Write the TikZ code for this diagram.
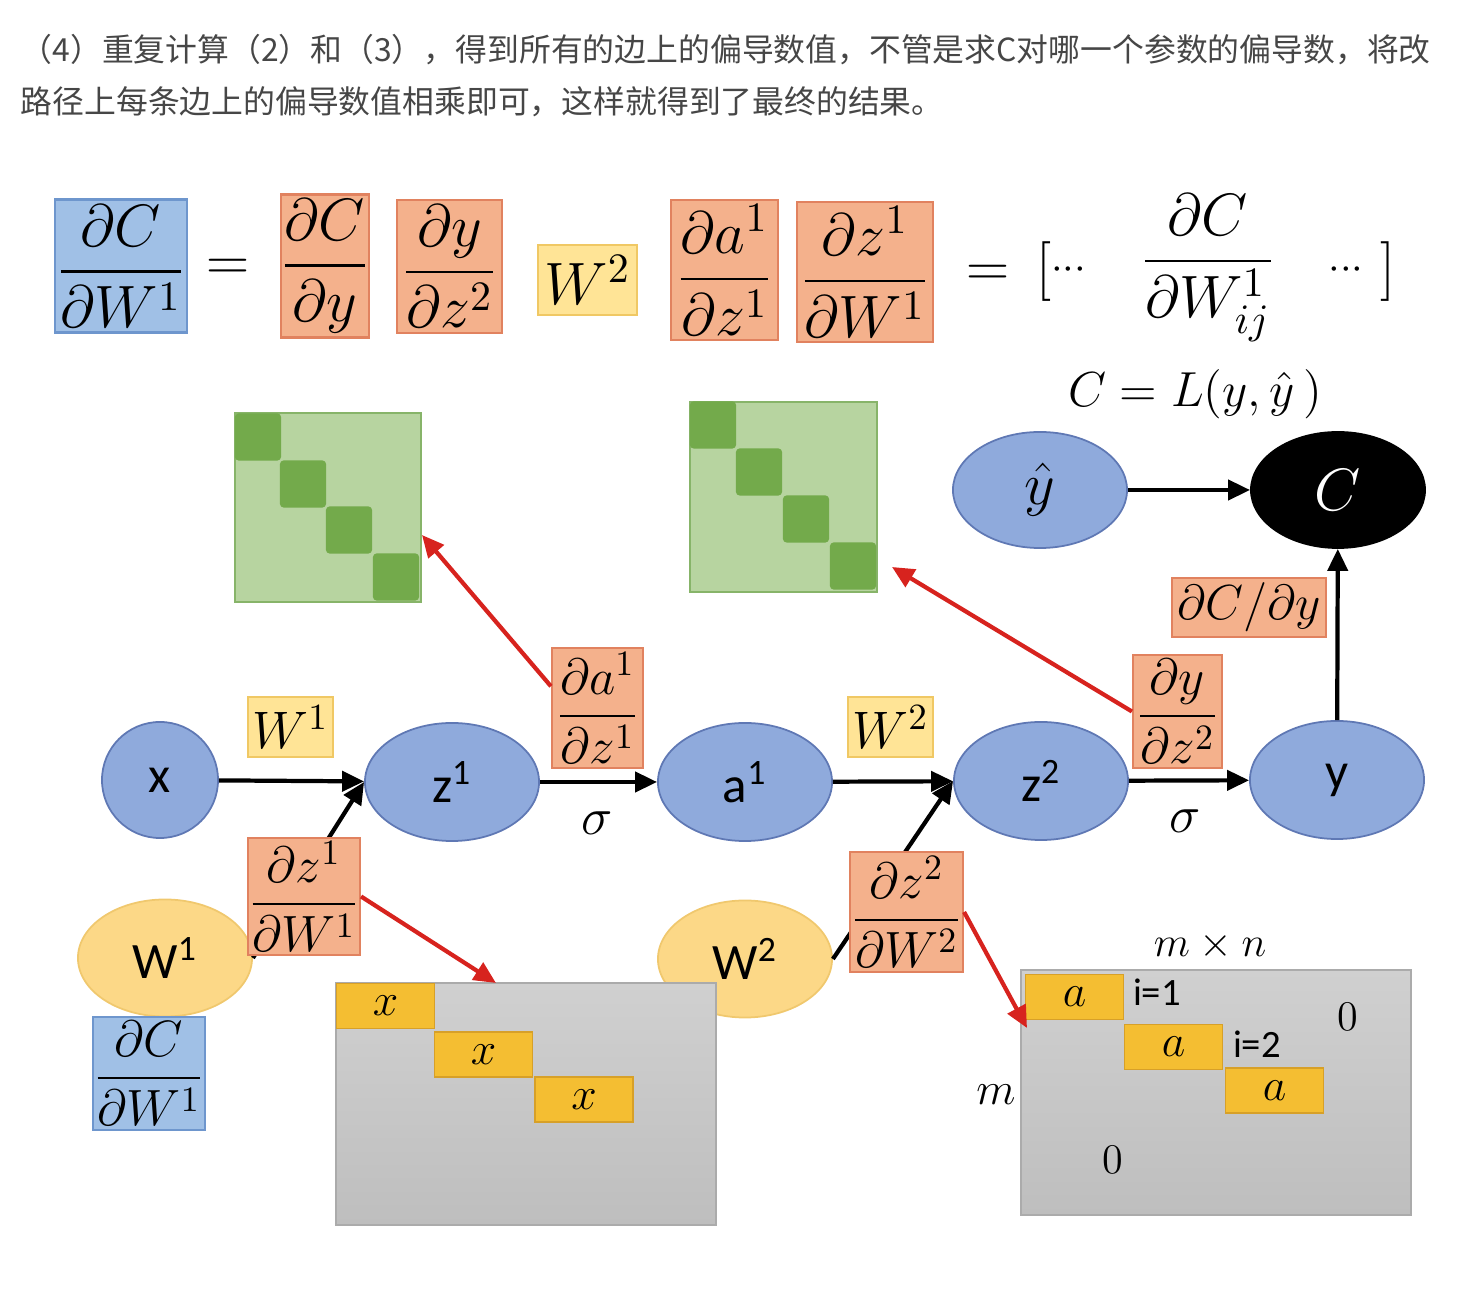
\RequirePackage{fix-cm}
\documentclass[tikz,border=0pt]{standalone}
\usepackage{amsmath}
\usepackage{fontspec}
\newfontfamily\cjk{Noto Sans CJK SC}
\newfontfamily\calfont{Carlito}
\usetikzlibrary{shapes.geometric,arrows.meta}
\definecolor{nodeblue}{RGB}{143,170,220}
\definecolor{nodeblueline}{RGB}{95,120,180}
\definecolor{boxblue}{RGB}{160,192,230}
\definecolor{boxblueline}{RGB}{110,150,205}
\definecolor{boxorange}{RGB}{244,177,140}
\definecolor{boxorangeline}{RGB}{225,130,95}
\definecolor{boxyellow}{RGB}{255,228,150}
\definecolor{boxyellowline}{RGB}{240,200,100}
\definecolor{nodeyellow}{RGB}{252,216,135}
\definecolor{nodeyellowline}{RGB}{240,200,110}
\definecolor{matgreen}{RGB}{183,212,160}
\definecolor{matgreenline}{RGB}{135,180,105}
\definecolor{cellgreen}{RGB}{115,170,75}
\definecolor{graytop}{RGB}{208,208,208}
\definecolor{graybot}{RGB}{190,190,190}
\definecolor{cellgold}{RGB}{244,190,50}
\definecolor{cellgoldline}{RGB}{215,160,40}
\definecolor{arrowred}{RGB}{215,35,30}
\definecolor{headgray}{RGB}{70,70,70}
\newcommand{\hidots}{\raisebox{0.3ex}{$\scriptstyle\cdots$}}
\begin{document}
\begin{tikzpicture}[x=0.01cm,y=-0.01cm,
  bnode/.style={ellipse, draw=nodeblueline, fill=nodeblue, line width=0.5pt, minimum width=1.74cm, minimum height=1.18cm, font=\calfont\fontsize{14.5}{17}\selectfont},
  ynode/.style={ellipse, draw=nodeyellowline, fill=nodeyellow, line width=0.5pt, minimum width=1.74cm, minimum height=1.17cm, font=\calfont\fontsize{14.5}{17}\selectfont},
  obox/.style={draw=boxorangeline, fill=boxorange, line width=0.6pt},
  bbox/.style={draw=boxblueline, fill=boxblue, line width=0.6pt},
  ybox/.style={draw=boxyellowline, fill=boxyellow, line width=0.6pt},
  bigmath/.style={font=\fontsize{17}{20}\selectfont},
  midmath/.style={font=\fontsize{14.5}{17}\selectfont},
  blk/.style={line width=1.2pt, -{Triangle[length=0.22cm, width=0.2cm]}},
  redarr/.style={arrowred, line width=1.2pt, -{Triangle[length=0.22cm, width=0.2cm]}},
  greenmat/.style={draw=matgreenline, fill=matgreen, line width=0.6pt},
  greencell/.style={fill=cellgreen, rounded corners=1pt, minimum width=0.46cm, minimum height=0.47cm},
  graymat/.style={draw=graybot!90!black, top color=graytop, bottom color=graybot, line width=0.5pt},
  goldcell/.style={draw=cellgoldline, fill=cellgold, line width=0.5pt, minimum width=0.98cm, minimum height=0.45cm, font=\fontsize{13}{15}\selectfont},
  smalltext/.style={font=\fontsize{12}{14}\selectfont},
  idxtext/.style={font=\calfont\fontsize{11}{13}\selectfont}]
\tikzstyle{every node}+=[inner sep=0pt]
\useasboundingbox (0,0) rectangle (1478,1298);
\node[anchor=base west, font=\cjk\fontsize{9.05}{11}\selectfont, text=headgray] (line1) at (20,62) {（4）重复计算（2）和（3），得到所有的边上的偏导数值，不管是求C对哪一个参数的偏导数，将改};
\node[anchor=base west, font=\cjk\fontsize{9.05}{11}\selectfont, text=headgray] (line2) at (20,114) {路径上每条边上的偏导数值相乘即可，这样就得到了最终的结果。};
\node[bbox, bigmath, minimum width=1.32cm, minimum height=1.33cm] (lhs) at (121,266) {$\dfrac{\partial C}{\partial W^1}$};
\node[bigmath] (eqa) at (228,270) {$=$};
\node[obox, bigmath, minimum width=0.84cm, minimum height=1.43cm] (fCy) at (325,266) {$\dfrac{\partial C}{\partial y}$};
\node[obox, bigmath, minimum width=1.05cm, minimum height=1.33cm] (fyz) at (449.5,266.5) {$\dfrac{\partial y}{\partial z^2}$};
\node[ybox, bigmath, minimum width=0.99cm, minimum height=0.70cm] (wtwo) at (587.5,280) {$W^2$};
\node[obox, bigmath, minimum width=1.07cm, minimum height=1.40cm] (faz) at (724.5,270) {$\dfrac{\partial a^1}{\partial z^1}$};
\node[obox, bigmath, minimum width=1.36cm, minimum height=1.40cm] (fzW) at (865,272) {$\dfrac{\partial z^1}{\partial W^1}$};
\node[bigmath] (eqb) at (1030,272) {$=\,[\hidots$};
\node[bigmath] (fij) at (1208,268) {$\dfrac{\partial C}{\partial W^1_{ij}}$};
\node[bigmath] (close) at (1362,272) {$\hidots\,]$};
\node[font=\fontsize{14}{16}\selectfont] (loss) at (1195,394) {$C = L(y,\hat{y}\,)$};
\node[greenmat, minimum width=1.86cm, minimum height=1.89cm] (G1) at (328,507.5) {};
\node[greencell] (G1a) at (258,437) {};
\node[greencell] (G1b) at (303,484) {};
\node[greencell] (G1c) at (349,530) {};
\node[greencell] (G1d) at (396,577) {};
\node[greenmat, minimum width=1.87cm, minimum height=1.90cm] (G2) at (783.5,497) {};
\node[greencell] (G2a) at (713,425) {};
\node[greencell] (G2b) at (759,472) {};
\node[greencell] (G2c) at (806,519) {};
\node[greencell] (G2d) at (853,566) {};
\node[bnode, minimum width=1.16cm, minimum height=1.16cm] (x) at (160,780) {x};
\node[bnode] (z1) at (452,782) {z\textsuperscript{1}};
\node[bnode] (a1) at (745,782) {a\textsuperscript{1}};
\node[bnode] (z2) at (1041,781) {z\textsuperscript{2}};
\node[bnode] (y) at (1337,780) {y};
\node[bnode, minimum height=1.16cm, font=\fontsize{17}{20}\selectfont] (yhat) at (1040,490) {$\hat{y}$};
\node[bnode, minimum height=1.16cm, fill=black, draw=black, text=white, font=\fontsize{17}{20}\selectfont] (C) at (1338,490) {$C$};
\node[ynode] (W1) at (165,958) {W\textsuperscript{1}};
\node[ynode] (W2) at (745,959) {W\textsuperscript{2}};
\draw[blk] (x) -- (z1);
\draw[blk] (z1) -- (a1);
\draw[blk] (a1) -- (z2);
\draw[blk] (z2) -- (y);
\draw[blk] (y) -- (C);
\draw[blk] (yhat) -- (C);
\draw[blk] (W1.east) -- (z1.west);
\draw[blk] (W2.east) -- (z2.west);
\node[ybox, font=\fontsize{15}{17}\selectfont, minimum width=0.85cm, minimum height=0.60cm] (wb1) at (290.5,727) {$W^1$};
\node[ybox, font=\fontsize{15}{17}\selectfont, minimum width=0.85cm, minimum height=0.60cm] (wb2) at (890.5,727) {$W^2$};
\node[obox, midmath, minimum width=0.91cm, minimum height=1.20cm] (da1) at (597.5,708) {$\dfrac{\partial a^1}{\partial z^1}$};
\node[obox, midmath, minimum width=0.89cm, minimum height=1.13cm] (dy) at (1177.5,711.5) {$\dfrac{\partial y}{\partial z^2}$};
\node[obox, font=\fontsize{14}{16}\selectfont, minimum width=1.54cm, minimum height=0.59cm] (dCy) at (1249,607.5) {$\partial C/\partial y$};
\node[obox, midmath, minimum width=1.12cm, minimum height=1.17cm] (dz1) at (304,896.5) {$\dfrac{\partial z^1}{\partial W^1}$};
\node[obox, midmath, minimum width=1.13cm, minimum height=1.20cm] (dz2) at (906.5,912) {$\dfrac{\partial z^2}{\partial W^2}$};
\node[bbox, midmath, minimum width=1.12cm, minimum height=1.13cm] (dCW) at (149,1073.5) {$\dfrac{\partial C}{\partial W^1}$};
\node[font=\fontsize{15}{17}\selectfont] (sg1) at (597,823) {$\sigma$};
\node[font=\fontsize{15}{17}\selectfont] (sg2) at (1185,821) {$\sigma$};
\node[graymat, minimum width=3.80cm, minimum height=2.42cm] (M1) at (526,1104) {};
\node[goldcell] (x1) at (385.5,1006) {$x$};
\node[goldcell] (x2) at (483.5,1054.5) {$x$};
\node[goldcell] (x3) at (584,1099.5) {$x$};
\node[graymat, minimum width=3.90cm, minimum height=2.45cm] (M2) at (1216,1092.5) {};
\node[goldcell] (c1) at (1074.5,997) {$a$};
\node[goldcell] (c2) at (1173.5,1047) {$a$};
\node[goldcell] (c3) at (1274.5,1090.5) {$a$};
\node[smalltext] (mn) at (1210,946) {$m\times n$};
\node[idxtext] (i1) at (1157,992) {i=1};
\node[idxtext] (i2) at (1257,1044) {i=2};
\node[smalltext] (zr1) at (1348,1017) {0};
\node[smalltext] (zr2) at (1113,1160) {0};
\node[font=\fontsize{13}{15}\selectfont] (mrow) at (996,1095) {$m$};
\coordinate (g1hit) at (422,535);
\coordinate (g2hit) at (892,567);
\coordinate (m1hit) at (496,983);
\coordinate (m2hit) at (1027,1028);
\draw[redarr] (da1.155) -- (g1hit);
\draw[redarr] (dy.west) -- (g2hit);
\draw[redarr] (dz1.east) -- (m1hit);
\draw[redarr] (dz2.east) -- (m2hit);
\end{tikzpicture}
\end{document}
